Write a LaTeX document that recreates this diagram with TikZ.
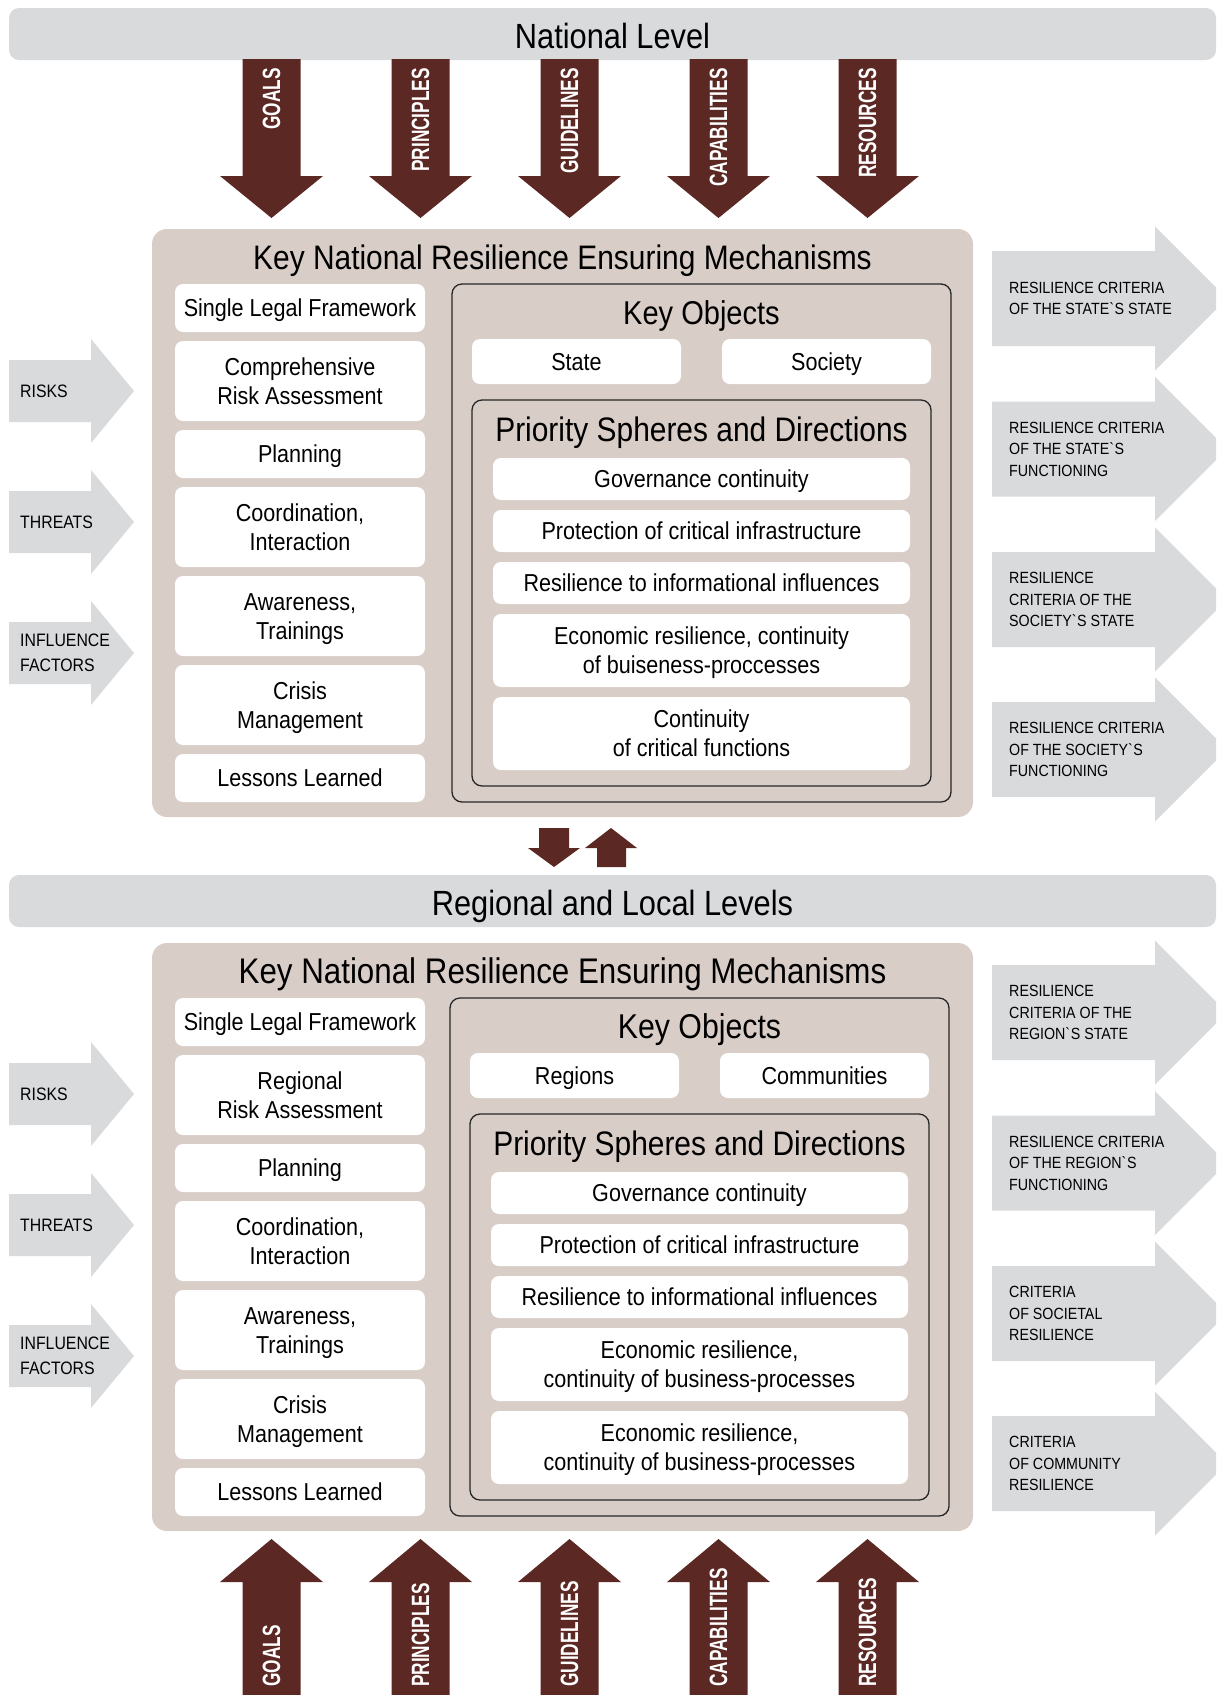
\documentclass[tikz,border=0pt]{standalone}
\usepackage{fontspec}
\setmainfont[FakeStretch=0.88]{Liberation Sans}
\newfontfamily\arrfont[FakeStretch=0.69]{Liberation Sans}
\definecolor{barg}{RGB}{217,218,220}
\definecolor{pnlc}{RGB}{217,205,200}
\definecolor{brn}{RGB}{91,40,36}
\newcommand\mtsize{34}
\newcommand\kosize{33}
\newcommand\kox{0}
\tikzset{
  wbox/.style={fill=white, rounded corners=8pt, inner sep=1pt, align=center,
    font=\fontsize{24.5}{29}\selectfont},
  obox/.style={draw=black!85, line width=1.3pt, rounded corners=10pt, inner sep=0pt},
  pnl/.style={fill=pnlc, rounded corners=15pt, inner sep=0pt},
  barbox/.style={fill=barg, rounded corners=10pt, inner sep=0pt},
  ttl/.style={font=\fontsize{\mtsize}{40}\selectfont, inner sep=0pt, anchor=base},
  prttl/.style={font=\fontsize{34}{40}\selectfont, inner sep=0pt, anchor=base},
  kttl/.style={font=\fontsize{\kosize}{40}\selectfont, inner sep=0pt, anchor=base},
  bartxt/.style={font=\fontsize{35}{40}\selectfont, inner sep=0pt, anchor=base},
  rtxt/.style={font=\fontsize{16.2}{21.5}\selectfont, align=left, anchor=west, inner sep=0pt},
  ltxt/.style={font=\fontsize{18}{25}\selectfont, align=left, anchor=west, inner sep=0pt},
  atxt/.style={font=\arrfont\bfseries\fontsize{25}{25}\selectfont, text=white, inner sep=0pt, text depth=0pt},
}
% box from (x1,y1) to (x2,y2)
\newcommand\bx[7][wbox]{%
  \node[#1, minimum width={(#5-#3)*1pt}, minimum height={(#6-#4)*1pt}] (#2)
    at ({(#3+#5)/2},{(#4+#6)/2}) {#7};}
% white box with uniform line metrics (caps centred in the box)
\newcommand\wb[6]{\bx{#1}{#2}{#3}{#4}{#5}{\rule{0pt}{22.6pt}#6\rule[-5.1pt]{0pt}{0pt}}}
% brown arrow down from national bar
\newcommand\darr[3]{%
  \fill[brn] (#2-29,59) -- (#2+29,59) -- (#2+29,176) -- (#2+51.5,176) -- (#2,218)
    -- (#2-51.5,176) -- (#2-29,176) -- cycle;
  \node[atxt, rotate=90, anchor=east] (#1) at (#2,68) {#3};}
% brown arrow up from bottom edge
\newcommand\uarr[3]{%
  \fill[brn] (#2-29,1700) -- (#2-29,1582) -- (#2-51.5,1582) -- (#2,1539)
    -- (#2+51.5,1582) -- (#2+29,1582) -- (#2+29,1700) -- cycle;
  \node[atxt, rotate=90, anchor=west] (#1) at (#2,1687) {#3};}
% gray arrow to the right (criteria)
\newcommand\rarr[3]{%
  \fill[barg] (992,#2) -- (1155,#2) -- (1155,#2+47.5-72) -- (1227,#2+47.5)
    -- (1155,#2+47.5+72) -- (1155,#2+95) -- (992,#2+95) -- cycle;
  \node[rtxt] (#1) at (1009,#2+47.5) {#3};}
% gray arrow on the left (inputs)
\newcommand\larr[3]{%
  \fill[barg] (9,#2-31) -- (91,#2-31) -- (91,#2-52) -- (134,#2) -- (91,#2+52)
    -- (91,#2+31) -- (9,#2+31) -- cycle;
  \node[ltxt] (#1) at (20,#2) {#3};}
% one panel of mechanisms
\newcommand\mechpanel[9]{%
  \bx[pnl]{pan}{152}{229}{973}{817}{}
  \node[ttl] (title) at (562.5,269) {Key National Resilience Ensuring Mechanisms};
  \wb{c1}{175}{284}{425}{332}{Single Legal Framework}
  \wb{c2}{175}{341}{425}{421}{#1}
  \wb{c3}{175}{430}{425}{478}{Planning}
  \wb{c4}{175}{487}{425}{567}{Coordination,\\Interaction}
  \wb{c5}{175}{576}{425}{656}{Awareness,\\Trainings}
  \wb{c6}{175}{665}{425}{745}{Crisis\\Management}
  \wb{c7}{175}{754}{425}{802}{Lessons Learned}
  \begin{scope}[xshift=\kox pt]
  \bx[obox]{ko}{452}{284}{951}{802}{}
  \node[kttl] (kotitle) at (701.5,324) {Key Objects};
  \wb{o1}{472}{339}{681}{384}{#2}
  \wb{o2}{722}{339}{931}{384}{#3}
  \bx[obox]{pr}{472}{400}{931}{786}{}
  \node[prttl] (prtitle) at (701.5,441) {Priority Spheres and Directions};
  \wb{p1}{493}{458}{910}{500}{Governance continuity}
  \wb{p2}{493}{510}{910}{552}{Protection of critical infrastructure}
  \wb{p3}{493}{562}{910}{604}{Resilience to informational influences}
  \wb{p4}{493}{614}{910}{687}{#4}
  \wb{p5}{493}{697}{910}{770}{#5}
  \end{scope}
  \rarr{r1}{251}{#6}
  \rarr{r2}{401.5}{#7}
  \rarr{r3}{552}{#8}
  \rarr{r4}{702}{#9}
}
\newcommand\gr{\textasciigrave}
\begin{document}
\begin{tikzpicture}[x=1pt,y=-1pt]
\useasboundingbox (0,0) rectangle (1216,1695);
\begin{scope}
\clip (0,0) rectangle (1216,1695);
% National level bar
\bx[barbox]{natbar}{9}{8}{1216}{60}{}
\node[bartxt] (nattxt) at (612.5,48) {National Level};
\darr{dgoals}{271.5}{GOALS}
\darr{dprin}{420.5}{PRINCIPLES}
\darr{dguid}{569.5}{GUIDELINES}
\darr{dcap}{718.5}{CAPABILITIES}
\darr{dres}{867.5}{RESOURCES}
% top panel
\begin{scope}[name prefix=t-]
\mechpanel{Comprehensive\\Risk Assessment}{State}{Society}%
  {Economic resilience, continuity\\of buiseness-proccesses}%
  {Continuity\\of critical functions}%
  {RESILIENCE CRITERIA\\OF THE STATE\gr S STATE}%
  {RESILIENCE CRITERIA\\OF THE STATE\gr S\\FUNCTIONING}%
  {RESILIENCE\\CRITERIA OF THE\\SOCIETY\gr S STATE}%
  {RESILIENCE CRITERIA\\OF THE SOCIETY\gr S\\FUNCTIONING}
\larr{l1}{391}{RISKS}
\larr{l2}{522}{THREATS}
\larr{l3}{653}{INFLUENCE\\FACTORS}
\end{scope}
% exchange arrows
\fill[brn] (539,828) -- (569,828) -- (569,848) -- (580,848) -- (554,867) -- (528,848) -- (539,848) -- cycle;
\fill[brn] (597,867) -- (597,848) -- (585,848) -- (611,828) -- (637,848) -- (626,848) -- (626,867) -- cycle;
% Regional bar
\bx[barbox]{regbar}{9}{875}{1216}{927}{}
\node[bartxt] (regtxt) at (612.5,915) {Regional and Local Levels};
% bottom panel
\renewcommand\mtsize{35.6}
\renewcommand\kosize{34.4}
\renewcommand\kox{-2}
\begin{scope}[yshift=-714pt, name prefix=b-]
\mechpanel{Regional\\Risk Assessment}{Regions}{Communities}%
  {Economic resilience,\\continuity of business-processes}%
  {Economic resilience,\\continuity of business-processes}%
  {RESILIENCE\\CRITERIA OF THE\\REGION\gr S STATE}%
  {RESILIENCE CRITERIA\\OF THE REGION\gr S\\FUNCTIONING}%
  {CRITERIA\\OF SOCIETAL\\RESILIENCE}%
  {CRITERIA\\OF COMMUNITY\\RESILIENCE}
\end{scope}
\begin{scope}[yshift=-703pt, name prefix=b-]
\larr{l1}{391}{RISKS}
\larr{l2}{522}{THREATS}
\larr{l3}{653}{INFLUENCE\\FACTORS}
\end{scope}
\uarr{ugoals}{271.5}{GOALS}
\uarr{uprin}{420.5}{PRINCIPLES}
\uarr{uguid}{569.5}{GUIDELINES}
\uarr{ucap}{718.5}{CAPABILITIES}
\uarr{ures}{867.5}{RESOURCES}
\end{scope}
\end{tikzpicture}
\end{document}
